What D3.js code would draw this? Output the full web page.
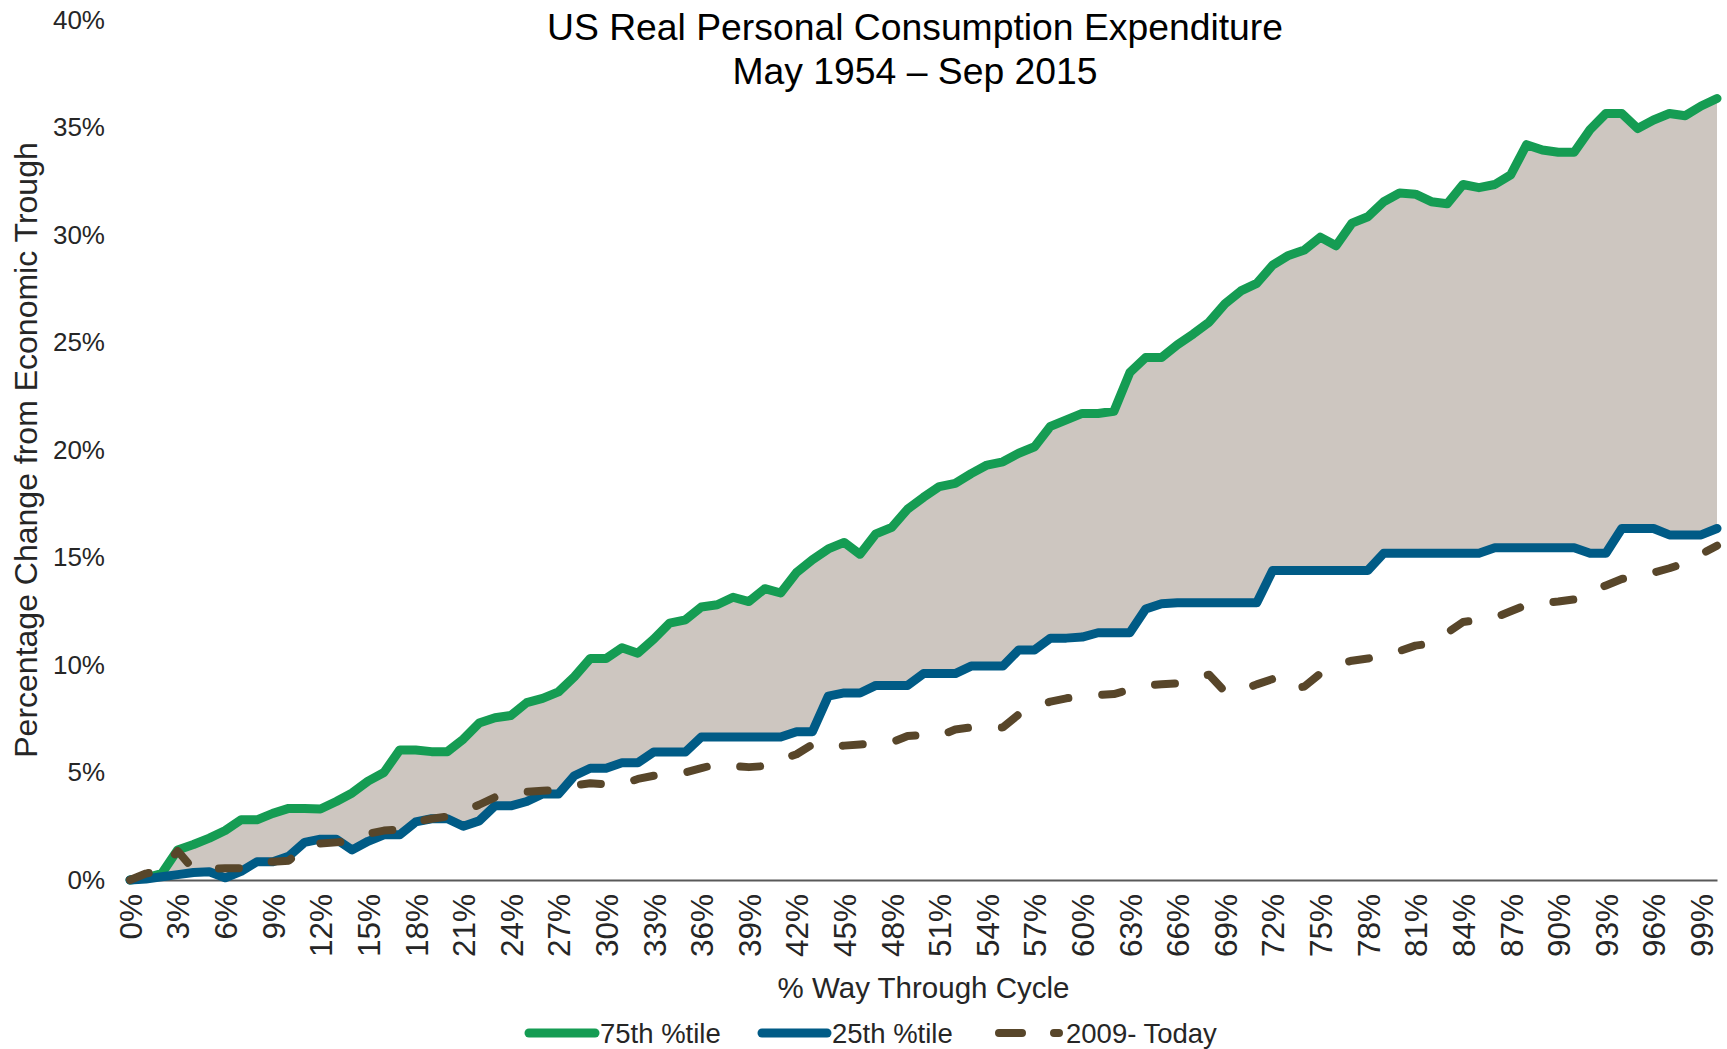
<!DOCTYPE html>
<html>
<head>
<meta charset="utf-8">
<script src="https://cdn.jsdelivr.net/npm/d3@7"></script>
<style>
  html, body { margin: 0; padding: 0; background: #ffffff; }
  svg { display: block; font-family: "Liberation Sans", Arial, sans-serif; }
</style>
</head>
<body>
<svg id="chart" width="1727" height="1049"></svg>
<script>
// ---------------- data ----------------
const pctThrough = [
  0, 1, 2, 3, 4, 5, 6, 7, 8, 9,
  10, 11, 12, 13, 14, 15, 16, 17, 18, 19,
  20, 21, 22, 23, 24, 25, 26, 27, 28, 29,
  30, 31, 32, 33, 34, 35, 36, 37, 38, 39,
  40, 41, 42, 43, 44, 45, 46, 47, 48, 49,
  50, 51, 52, 53, 54, 55, 56, 57, 58, 59,
  60, 61, 62, 63, 64, 65, 66, 67, 68, 69,
  70, 71, 72, 73, 74, 75, 76, 77, 78, 79,
  80, 81, 82, 83, 84, 85, 86, 87, 88, 89,
  90, 91, 92, 93, 94, 95, 96, 97, 98, 99,
  100
];

const p75 = [
  0, 0.1, 0.3, 1.4, 1.65, 1.95, 2.3, 2.8, 2.8, 3.1,
  3.33, 3.33, 3.3, 3.65, 4.05, 4.6, 5.0, 6.05, 6.05, 5.97,
  5.97, 6.55, 7.3, 7.55, 7.65, 8.25, 8.45, 8.75, 9.45, 10.3,
  10.3, 10.8, 10.55, 11.2, 11.95, 12.1, 12.7, 12.8, 13.15, 12.95,
  13.55, 13.35, 14.3, 14.9, 15.4, 15.7, 15.15, 16.1, 16.4, 17.25,
  17.8, 18.3, 18.45, 18.9, 19.3, 19.45, 19.85, 20.15, 21.1, 21.4,
  21.7, 21.7, 21.8, 23.6, 24.3, 24.3, 24.9, 25.4, 25.95, 26.8,
  27.4, 27.75, 28.6, 29.05, 29.3, 29.9, 29.5, 30.55, 30.85, 31.55,
  31.95, 31.9, 31.55, 31.45, 32.35, 32.2, 32.35, 32.8, 34.2, 33.95,
  33.85, 33.85, 34.9, 35.65, 35.65, 34.95, 35.35, 35.65, 35.55, 36.0,
  36.35
];

const p25 = [
  0, 0.05, 0.15, 0.25, 0.35, 0.38, 0.1, 0.4, 0.85, 0.85,
  1.1, 1.75, 1.9, 1.9, 1.4, 1.8, 2.1, 2.1, 2.7, 2.85,
  2.85, 2.5, 2.75, 3.45, 3.45, 3.65, 4.0, 4.0, 4.85, 5.2,
  5.2, 5.45, 5.45, 5.95, 5.95, 5.95, 6.65, 6.65, 6.65, 6.65,
  6.65, 6.65, 6.9, 6.9, 8.55, 8.7, 8.7, 9.05, 9.05, 9.05,
  9.6, 9.6, 9.6, 9.95, 9.95, 9.95, 10.7, 10.7, 11.25, 11.25,
  11.3, 11.5, 11.5, 11.5, 12.6, 12.85, 12.9, 12.9, 12.9, 12.9,
  12.9, 12.9, 14.4, 14.4, 14.4, 14.4, 14.4, 14.4, 14.4, 15.2,
  15.2, 15.2, 15.2, 15.2, 15.2, 15.2, 15.45, 15.45, 15.45, 15.45,
  15.45, 15.45, 15.2, 15.2, 16.35, 16.35, 16.35, 16.05, 16.05, 16.05,
  16.35
];

const current = [
  0, 0.3, 0.45, 1.35, 0.5, 0.5, 0.55, 0.55, 0.85, 0.85,
  0.9, 1.5, 1.7, 1.75, 1.8, 2.15, 2.3, 2.35, 2.7, 2.85,
  2.95, 3.2, 3.5, 3.85, 4.05, 4.1, 4.15, 4.2, 4.4, 4.5,
  4.45, 4.45, 4.7, 4.85, 4.9, 5.0, 5.2, 5.4, 5.3, 5.25,
  5.3, 5.6, 5.85, 6.3, 6.15, 6.25, 6.3, 6.35, 6.4, 6.7,
  6.75, 6.7, 7.0, 7.1, 7.05, 7.1, 7.7, 8.05, 8.3, 8.45,
  8.55, 8.6, 8.65, 8.85, 9.05, 9.1, 9.15, 9.4, 9.55, 8.75,
  8.8, 9.1, 9.35, 8.85, 9.0, 9.6, 10.0, 10.2, 10.3, 10.5,
  10.65, 10.9, 11.0, 11.5, 12.0, 12.1, 12.2, 12.5, 12.8, 12.9,
  12.95, 13.05, 13.4, 13.7, 14.0, 14.15, 14.3, 14.5, 14.75, 15.15,
  15.55
];

const yTickValues = [0, 5, 10, 15, 20, 25, 30, 35, 40];
const yTickLabels = ["0%", "5%", "10%", "15%", "20%", "25%", "30%", "35%", "40%"];
const xTickValues = [0, 3, 6, 9, 12, 15, 18, 21, 24, 27, 30, 33, 36, 39, 42, 45, 48,
  51, 54, 57, 60, 63, 66, 69, 72, 75, 78, 81, 84, 87, 90, 93, 96, 99];
const xTickLabels = ["0%", "3%", "6%", "9%", "12%", "15%", "18%", "21%", "24%", "27%",
  "30%", "33%", "36%", "39%", "42%", "45%", "48%", "51%", "54%", "57%", "60%", "63%",
  "66%", "69%", "72%", "75%", "78%", "81%", "84%", "87%", "90%", "93%", "96%", "99%"];

const seriesNames = ["75th %tile", "25th %tile", "2009- Today"];
const titleLines = ["US Real Personal Consumption Expenditure", "May 1954 \u2013 Sep 2015"];
const yAxisTitle = "Percentage Change from Economic Trough";
const xAxisTitle = "% Way Through Cycle";

// ---------------- styles ----------------
const COL_GREEN = "#159c53";
const COL_BLUE = "#005b86";
const COL_BROWN = "#58462a";
const COL_FILL = "#cdc6c0";
const COL_AXIS = "#595959";
const COL_TEXT = "#262626";

const svg = d3.select("#chart");
const plotLeft = 130, plotRight = 1717, plotTop = 20, plotBottom = 880;

const x = d3.scaleLinear().domain([0, 100]).range([plotLeft, plotRight]);
const y = d3.scaleLinear().domain([0, 40]).range([plotBottom, plotTop]);

const rows = pctThrough.map((p, i) => ({ p, hi: p75[i], lo: p25[i], cur: current[i] }));

// x axis (line + rotated labels)
const xAxis = d3.axisBottom(x)
  .tickValues(xTickValues)
  .tickSize(0)
  .tickSizeOuter(0)
  .tickFormat((d, i) => xTickLabels[i]);

const gx = svg.append("g")
  .attr("transform", `translate(0,${plotBottom})`)
  .call(xAxis);
gx.select(".domain").attr("stroke", COL_AXIS).attr("stroke-width", 2.2);
gx.selectAll("text")
  .attr("transform", "rotate(-90)")
  .attr("x", -14)
  .attr("y", 0)
  .attr("dy", "0.36em")
  .style("text-anchor", "end")
  .style("font-size", "31.5px")
  .style("font-family", "'Liberation Sans', Arial, sans-serif")
  .attr("fill", COL_TEXT);

// y axis (labels only)
const yAxis = d3.axisLeft(y)
  .tickValues(yTickValues)
  .tickSize(0)
  .tickPadding(25)
  .tickFormat((d, i) => yTickLabels[i]);
const gy = svg.append("g")
  .attr("transform", `translate(${plotLeft},0)`)
  .call(yAxis);
gy.select(".domain").remove();
gy.selectAll("text")
  .style("font-size", "26px")
  .style("font-family", "'Liberation Sans', Arial, sans-serif")
  .attr("fill", COL_TEXT);

// band between percentiles
const area = d3.area()
  .x(d => x(d.p))
  .y0(d => y(d.lo))
  .y1(d => y(d.hi));
svg.append("path")
  .datum(rows)
  .attr("d", area)
  .attr("fill", COL_FILL);

const lineHi = d3.line().x(d => x(d.p)).y(d => y(d.hi));
const lineLo = d3.line().x(d => x(d.p)).y(d => y(d.lo));
const lineCur = d3.line().x(d => x(d.p)).y(d => y(d.cur));

svg.append("path").datum(rows).attr("d", lineHi)
  .attr("fill", "none").attr("stroke", COL_GREEN).attr("stroke-width", 9)
  .attr("stroke-linejoin", "round").attr("stroke-linecap", "round");

svg.append("path").datum(rows).attr("d", lineLo)
  .attr("fill", "none").attr("stroke", COL_BLUE).attr("stroke-width", 9)
  .attr("stroke-linejoin", "round").attr("stroke-linecap", "round");

svg.append("path").datum(rows).attr("d", lineCur)
  .attr("fill", "none").attr("stroke", COL_BROWN).attr("stroke-width", 8)
  .attr("stroke-dasharray", "20 34")
  .attr("stroke-linejoin", "round").attr("stroke-linecap", "round");

// titles
const title = svg.append("text")
  .attr("x", 915)
  .attr("text-anchor", "middle")
  .style("font-size", "37.3px")
  .attr("fill", "#000");
title.selectAll("tspan").data(titleLines).join("tspan")
  .attr("x", 915)
  .attr("y", (d, i) => 40 + i * 44)
  .text(d => d);

svg.append("text")
  .attr("transform", `translate(37,${(plotTop + plotBottom) / 2}) rotate(-90)`)
  .attr("text-anchor", "middle")
  .style("font-size", "32px")
  .attr("fill", COL_TEXT)
  .text(yAxisTitle);

svg.append("text")
  .attr("x", (plotLeft + plotRight) / 2)
  .attr("y", 998)
  .attr("text-anchor", "middle")
  .style("font-size", "29.5px")
  .attr("fill", COL_TEXT)
  .text(xAxisTitle);

// legend
const legendItems = [
  { name: seriesNames[0], color: COL_GREEN, x0: 529, x1: 595, tx: 600, dash: null, w: 9 },
  { name: seriesNames[1], color: COL_BLUE, x0: 762, x1: 827, tx: 832, dash: null, w: 9 },
  { name: seriesNames[2], color: COL_BROWN, x0: 999, x1: 1059, tx: 1066, dash: "23 32", w: 8 }
];
const legY = 1033;
const lg = svg.append("g");
legendItems.forEach(it => {
  lg.append("line")
    .attr("x1", it.x0).attr("x2", it.x1)
    .attr("y1", legY).attr("y2", legY)
    .attr("stroke", it.color).attr("stroke-width", it.w)
    .attr("stroke-linecap", "round")
    .attr("stroke-dasharray", it.dash);
  lg.append("text")
    .attr("x", it.tx).attr("y", legY + 10)
    .style("font-size", "27.5px")
    .attr("fill", COL_TEXT)
    .text(it.name);
});
</script>
</body>
</html>
